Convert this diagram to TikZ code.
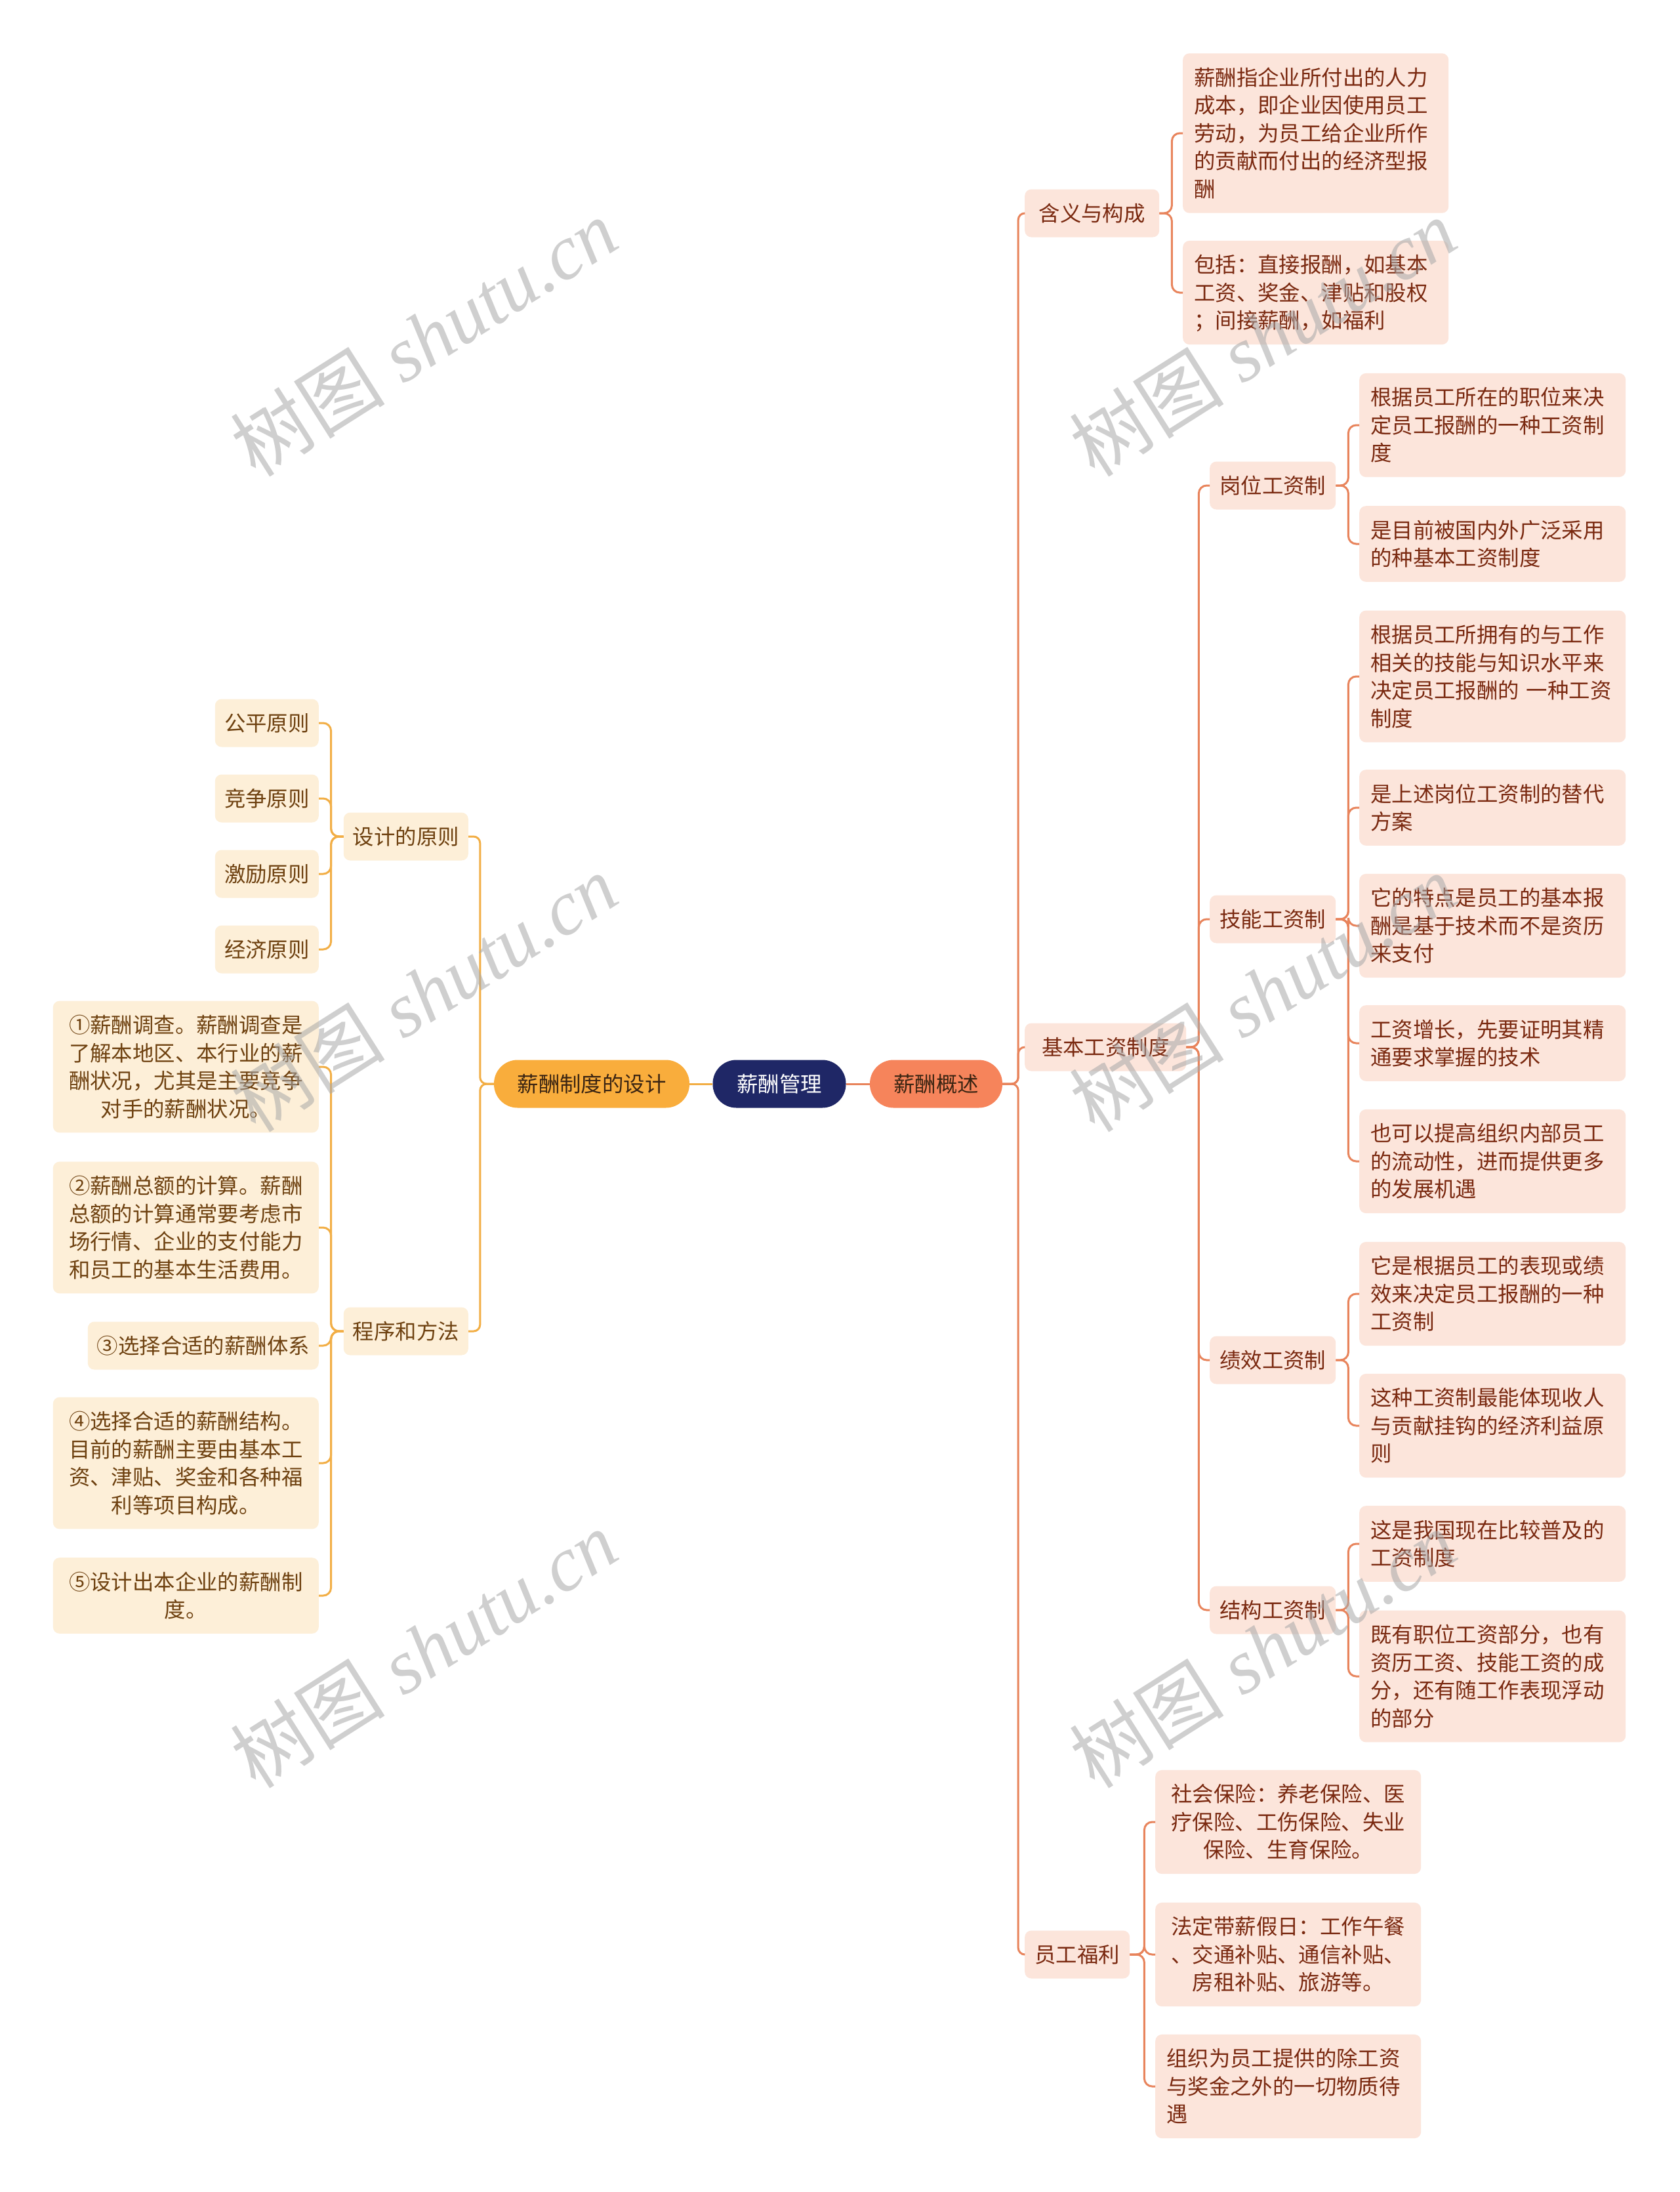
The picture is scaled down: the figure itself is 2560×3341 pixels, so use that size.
\documentclass[tikz,border=0pt]{standalone}
\usepackage{fontspec}
\setmainfont{Noto Sans CJK SC}
\newfontfamily\wmlatin{Liberation Serif}
\definecolor{rfill}{HTML}{FCE5DB}
\definecolor{lfill}{HTML}{FDEFD8}
\definecolor{rtext}{HTML}{7A2910}
\definecolor{ltext}{HTML}{6E4110}
\definecolor{rline}{HTML}{E8845C}
\definecolor{lline}{HTML}{F2AE45}
\definecolor{navy}{HTML}{1F2766}
\definecolor{pillor}{HTML}{F6845B}
\definecolor{pillye}{HTML}{F9AD3C}
\definecolor{pilltx}{HTML}{3A2412}
\definecolor{wmgray}{HTML}{A8A8A8}
\newcommand\nodefs{\fontsize{32.4pt}{42.6pt}\selectfont}
\newcommand\mystrut{\rule[-9pt]{0pt}{42.6pt}}
\tikzset{
  base/.style={font=\nodefs, execute at begin node=\mystrut, execute at end node=\mystrut,
    inner ysep=15.2pt, inner xsep=10pt, rounded corners=10pt},
  rbox/.style={base, fill=rfill, text=rtext},
  lbox/.style={base, fill=lfill, text=ltext},
  rwide/.style={rbox, inner xsep=17pt, text width=372pt, align=left},
  rwidec/.style={rbox, inner xsep=17pt, text width=371pt, align=center},
  lwide/.style={lbox, inner xsep=17pt, text width=371pt, align=center},
  pill/.style={base, rounded corners=36pt, minimum height=73pt},
  rconn/.style={draw=rline, line width=3pt, rounded corners=12pt},
  lconn/.style={draw=lline, line width=3pt, rounded corners=12pt},
  trunkr/.style={draw=rline, line width=3pt, rounded corners=10pt},
  trunkl/.style={draw=lline, line width=3pt, rounded corners=10pt},
  wm/.style={text=wmgray, text opacity=0.55, inner sep=0pt, rotate=32.4,
    font=\fontsize{118pt}{118pt}\selectfont}
}
\begin{document}
\begin{tikzpicture}[x=1pt,y=-1pt]
\useasboundingbox (0,0) rectangle (2560,3341);
\fill[white] (0,0) rectangle (2560,3341);

% central
\node[pill, fill=navy, text=white, minimum width=203pt] (root) at (1188,1652) {薪酬管理};
\node[pill, fill=pillor, text=pilltx, minimum width=202pt] (gs) at (1427,1652) {薪酬概述};
\node[pill, fill=pillye, text=pilltx, minimum width=298pt] (zd) at (902,1652) {薪酬制度的设计};

% right level 1
\node[rbox, anchor=west, minimum width=205pt] (hy) at (1562,325) {含义与构成};
\node[rbox, anchor=west, minimum width=246pt] (jb) at (1562,1596) {基本工资制度};
\node[rbox, anchor=west, minimum width=160pt] (fl) at (1562,2979) {员工福利};

% 含义与构成 children
\node[rwide, anchor=west, text width=371pt] (hy1) at (1803,203) {薪酬指企业所付出的人力\\成本，即企业因使用员工\\劳动，为员工给企业所作\\的贡献而付出的经济型报\\酬};
\node[rwide, anchor=west, text width=371pt] (hy2) at (1803,446) {包括：直接报酬，如基本\\工资、奖金、津贴和股权\\；间接薪酬，如福利};

% 基本工资制度 children
\node[rbox, anchor=west, minimum width=192pt] (gw) at (1844,740) {岗位工资制};
\node[rbox, anchor=west, minimum width=192pt] (jn) at (1844,1401) {技能工资制};
\node[rbox, anchor=west, minimum width=192pt] (jx) at (1844,2073) {绩效工资制};
\node[rbox, anchor=west, minimum width=192pt] (jg) at (1844,2454) {结构工资制};

\node[rwide, anchor=west] (g1) at (2072,648) {根据员工所在的职位来决\\定员工报酬的一种工资制\\度};
\node[rwide, anchor=west] (g2) at (2072,829) {是目前被国内外广泛采用\\的种基本工资制度};
\node[rwide, anchor=west] (j1) at (2072,1031) {根据员工所拥有的与工作\\相关的技能与知识水平来\\决定员工报酬的 一种工资\\制度};
\node[rwide, anchor=west] (j2) at (2072,1231) {是上述岗位工资制的替代\\方案};
\node[rwide, anchor=west] (j3) at (2072,1411) {它的特点是员工的基本报\\酬是基于技术而不是资历\\来支付};
\node[rwide, anchor=west] (j4) at (2072,1590) {工资增长，先要证明其精\\通要求掌握的技术};
\node[rwide, anchor=west] (j5) at (2072,1770) {也可以提高组织内部员工\\的流动性，进而提供更多\\的发展机遇};
\node[rwide, anchor=west] (p1) at (2072,1972) {它是根据员工的表现或绩\\效来决定员工报酬的一种\\工资制};
\node[rwide, anchor=west] (p2) at (2072,2173) {这种工资制最能体现收人\\与贡献挂钩的经济利益原\\则};
\node[rwide, anchor=west] (s1) at (2072,2353) {这是我国现在比较普及的\\工资制度};
\node[rwide, anchor=west] (s2) at (2072,2555) {既有职位工资部分，也有\\资历工资、技能工资的成\\分，还有随工作表现浮动\\的部分};

% 员工福利 children
\node[rwidec, anchor=west] (w1) at (1761,2777) {社会保险：养老保险、医\\疗保险、工伤保险、失业\\保险、生育保险。};
\node[rwidec, anchor=west] (w2) at (1761,2979) {法定带薪假日：工作午餐\\、交通补贴、通信补贴、\\房租补贴、旅游等。};
\node[rwide, anchor=west, text width=371pt] (w3) at (1761,3180) {组织为员工提供的除工资\\与奖金之外的一切物质待\\遇};

% left level 1
\node[lbox, anchor=east, minimum width=190pt] (yz) at (714,1275) {设计的原则};
\node[lbox, anchor=east, minimum width=190pt] (cx) at (714,2029) {程序和方法};

\node[lbox, anchor=east, minimum width=158pt] (gp) at (486,1102) {公平原则};
\node[lbox, anchor=east, minimum width=158pt] (jz) at (486,1217) {竞争原则};
\node[lbox, anchor=east, minimum width=158pt] (jl) at (486,1332) {激励原则};
\node[lbox, anchor=east, minimum width=158pt] (jj) at (486,1447) {经济原则};

\node[lwide, anchor=east] (c1) at (486,1626) {①薪酬调查。薪酬调查是\\了解本地区、本行业的薪\\酬状况，尤其是主要竞争\\对手的薪酬状况。};
\node[lwide, anchor=east] (c2) at (486,1871) {②薪酬总额的计算。薪酬\\总额的计算通常要考虑市\\场行情、企业的支付能力\\和员工的基本生活费用。};
\node[lbox, anchor=east, minimum width=352pt] (c3) at (486,2051) {③选择合适的薪酬体系};
\node[lwide, anchor=east] (c4) at (486,2230) {④选择合适的薪酬结构。\\目前的薪酬主要由基本工\\资、津贴、奖金和各种福\\利等项目构成。};
\node[lwide, anchor=east] (c5) at (486,2432) {⑤设计出本企业的薪酬制\\度。};

% connectors: centre
\draw[rconn] (root.east) -- (gs.west);
\draw[lconn] (root.west) -- (zd.east);

% right trunk
\foreach \c in {hy,jb,fl}
  \draw[trunkr] (gs.east) -- ++(24,0) |- (\c.west);
\foreach \c in {hy1,hy2}
  \draw[rconn] (hy.east) -- ++(19,0) |- (\c.west);
\foreach \c in {gw,jn,jx,jg}
  \draw[rconn] (jb.east) -- ++(19,0) |- (\c.west);
\foreach \c in {g1,g2}
  \draw[rconn] (gw.east) -- ++(19,0) |- (\c.west);
\foreach \c in {j1,j2,j3,j4,j5}
  \draw[rconn] (jn.east) -- ++(19,0) |- (\c.west);
\foreach \c in {p1,p2}
  \draw[rconn] (jx.east) -- ++(19,0) |- (\c.west);
\foreach \c in {s1,s2}
  \draw[rconn] (jg.east) -- ++(19,0) |- (\c.west);
\foreach \c in {w1,w2,w3}
  \draw[rconn] (fl.east) -- ++(22,0) |- (\c.west);

% left trunk
\foreach \c in {yz,cx}
  \draw[trunkl] (zd.west) -- ++(-21,0) |- (\c.east);
\foreach \c in {gp,jz,jl,jj}
  \draw[lconn] (yz.west) -- ++(-19,0) |- (\c.east);
\foreach \c in {c1,c2,c3,c4,c5}
  \draw[lconn] (cx.west) -- ++(-19,0) |- (\c.east);

% watermark
\foreach \px/\py [count=\i] in {646/514,1925/514,646/1513,1925/1513,646/2513,1925/2513}
  \node[wm] (wm\i) at (\px,\py) {树图{\wmlatin\itshape\ shutu.cn}};
\end{tikzpicture}
\end{document}
